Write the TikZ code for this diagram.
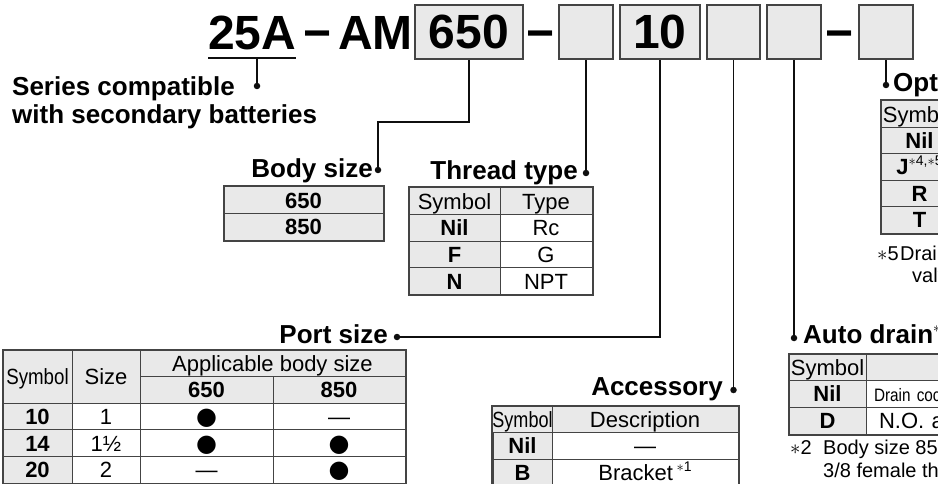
\documentclass[tikz,border=0pt]{standalone}
\usepackage{fontspec}
\usepackage{graphicx}
\setmainfont{Liberation Sans}
\newfontfamily\markfont{DejaVu Sans}
\usetikzlibrary{positioning,calc}
\definecolor{cellgray}{RGB}{233,233,233}
\definecolor{rulegray}{RGB}{68,68,68}
\definecolor{inkblack}{RGB}{15,15,15}
\newcommand{\partcodefont}{\fontsize{48}{50}\selectfont\bfseries}
\newcommand{\calloutfont}{\fontsize{26}{28}\selectfont\bfseries}
\newcommand{\cellfont}{\fontsize{22}{24}\selectfont}
\newcommand{\remarkfont}{\fontsize{20}{23}\selectfont}
\newcommand{\notemark}[1]{\raisebox{0.42em}{\fontsize{14}{14}\selectfont\mdseries$\ast$#1}}
\newcommand{\fitmark}{{\markfont\fontsize{24}{24}\selectfont ●}}
\newcommand{\nofit}{—}
\tikzset{
  codebox/.style={draw=rulegray, line width=1.8pt, fill=cellgray, inner sep=0pt,
    minimum height=54pt, minimum width=#1, font=\partcodefont},
  callout/.style={inner sep=0pt, font=\calloutfont},
  joint/.style={circle, fill=inkblack, inner sep=0pt, minimum size=6.5pt},
  leader/.style={draw=inkblack, line width=1.8pt},
  gcell/.style={draw=rulegray, line width=1pt, fill=cellgray, inner sep=0pt,
    minimum width=#1, minimum height=26.6pt, text height=16pt, text depth=0.2pt,
    font=\cellfont},
  wcell/.style={gcell=#1, fill=white},
  tabframe/.style={draw=rulegray, line width=2pt},
  remark/.style={inner sep=0pt, anchor=base west, align=left, font=\remarkfont},
}
\begin{document}
\begin{tikzpicture}[x=1pt, y=-1pt]
      \clip (0,0) rectangle (938,484);
      \fill[white] (0,0) rectangle (938,484);

      %% ---- part number ----
      \node[anchor=base west, inner sep=0pt, font=\partcodefont] (t25) at (208,50) {25A};
      \node[anchor=base, inner sep=0pt, font=\partcodefont] (dash1) at (318,50) {−};
      \node[anchor=base west, inner sep=0pt, font=\partcodefont] (tAM) at (338,50) {AM};
      \node[codebox=108] (b650) at (469,32) {650};
      \node[anchor=base, inner sep=0pt, font=\partcodefont] (dash2) at (541,50) {−};
      \node[codebox=54] (bThread) at (586,32) {};
      \node[codebox=80] (b10) at (660,32) {10};
      \node[codebox=53] (bAcc) at (733.5,32) {};
      \node[codebox=54] (bDrain) at (794,32) {};
      \node[anchor=base, inner sep=0pt, font=\partcodefont] (dash3) at (840,50) {−};
      \node[codebox=54] (bOpt) at (886,32) {};

      %% ---- callouts ----
      \node[callout, anchor=base west, align=left] (lSeries) at (12,124)
           {Series compatible\\with secondary batteries};
      \node[joint] (dSeries) at (257,86) {};
      \coordinate (ul25) at (257,58);
      \draw[leader] (t25.base west |- ul25) -- (t25.base east |- ul25);
      \draw[leader] (ul25) -- (dSeries);

      \node[callout, anchor=base east] (lBody) at (373,178) {Body size};
      \node[joint] (dBody) at (378,170) {};
      \coordinate (k650) at (420,122);
      \draw[leader] (b650.south) |- (k650) -| (dBody);

      \node[callout, anchor=base east] (lThread) at (578,180) {Thread type};
      \node[joint] (dThread) at (586,173) {};
      \draw[leader] (bThread.south) -- (dThread);

      \node[callout, anchor=base east] (lPort) at (388,343) {Port size};
      \node[joint] (dPort) at (397,337) {};
      \draw[leader] (b10.south) |- (dPort);

      \node[callout, anchor=base east] (lAcc) at (723,395) {Accessory};
      \node[joint] (dAcc) at (733.5,390) {};
      \draw[leader] (bAcc.south) -- (dAcc);

      \node[callout, anchor=base west] (lDrain) at (803,343) {Auto drain\notemark{2}};
      \node[joint] (dDrain) at (794,338) {};
      \draw[leader] (bDrain.south) -- (dDrain);

      \node[callout, anchor=base west] (lOpt) at (893,92) {Options};
      \node[joint] (dOpt) at (886,85) {};
      \draw[leader] (bOpt.south) -- (dOpt);

      %% ---- body size table ----
      \node[gcell=159, font=\cellfont\bfseries] (bs650) at (303.5,200.3) {650};
      \node[gcell=159, font=\cellfont\bfseries] (bs850) at (303.5,226.9) {850};
      \draw[tabframe] (bs650.north west) rectangle (bs850.south east);

      %% ---- thread type table ----
      \node[gcell=91] (ttSym) at (454.5,201.3) {Symbol};
      \node[gcell=92] (ttType) at (546,201.3) {Type};
      \foreach \ry/\sym/\val [count=\i] in {228/Nil/Rc, 254.6/F/G, 281.2/N/NPT}{
        \node[gcell=91, font=\cellfont\bfseries] (ttS\i) at (454.5,\ry) {\sym};
        \node[wcell=92] (ttV\i) at (546,\ry) {\val};}
      \draw[tabframe] (ttSym.north west) rectangle (ttV3.south east);

      %% ---- port size table ----
      \node[gcell=69, minimum height=53.2pt] (psSym) at (37.5,376.6) {\scalebox{0.85}[1]{Symbol}};
      \node[gcell=68, minimum height=53.2pt] (psSize) at (106,376.6) {Size};
      \node[gcell=265] (psApp) at (272.5,363.3) {Applicable body size};
      \node[gcell=133, font=\cellfont\bfseries] (ps650) at (206.5,389.9) {650};
      \node[gcell=132, font=\cellfont\bfseries] (ps850) at (339,389.9) {850};
      \foreach \ry/\sym/\sz/\fa/\fb [count=\i] in {416.5/10/1/\fitmark/\nofit,
                                  443.1/14/1½/\fitmark/\fitmark, 469.7/20/2/\nofit/\fitmark}{
        \node[gcell=69, font=\cellfont\bfseries] (psS\i) at (37.5,\ry) {\sym};
        \node[wcell=68] (psZ\i) at (106,\ry) {\sz};
        \node[wcell=133] (psA\i) at (206.5,\ry) {\fa};
        \node[wcell=132] (psB\i) at (339,\ry) {\fb};}
      \draw[tabframe] (psSym.north west) rectangle (psB3.south east);

      %% ---- accessory table ----
      \node[gcell=59] (acSym) at (522.5,419.3) {\scalebox{0.82}[1]{Symbol}};
      \node[gcell=186] (acDesc) at (645,419.3) {Description};
      \foreach \ry/\sym/\val [count=\i] in {445.9/Nil/\nofit, 472.5/B/{Bracket\,\notemark{1}}}{
        \node[gcell=59, font=\cellfont\bfseries] (acS\i) at (522.5,\ry) {\sym};
        \node[wcell=186] (acV\i) at (645,\ry) {\val};}
      \draw[tabframe] (acSym.north west) rectangle (acV2.south east);

      %% ---- auto drain table ----
      \node[gcell=77] (adSym) at (827.5,367.3) {Symbol};
      \node[gcell=170] (adDesc) at (951,367.3) {};
      \node[gcell=77, font=\cellfont\bfseries] (adS1) at (827.5,394) {Nil};
      \node[wcell=170, inner xsep=4pt, text width=162pt, align=left] (adV1) at (951,394)
           {\hspace*{4pt}\scalebox{0.85}[1]{\fontsize{18}{20}\selectfont Drain cock}};
      \node[gcell=77, font=\cellfont\bfseries] (adS2) at (827.5,420.7) {D};
      \node[wcell=170, inner xsep=4pt, text width=162pt, align=left] (adV2) at (951,420.7)
           {\hspace*{9pt}N.O. auto drain};
      \draw[tabframe] (adSym.north west) rectangle (adV2.south east);
      \node[remark] (nDrain) at (790,477)
           {\makebox[33pt][l]{$\ast$2}Body size 850\\\hspace*{33pt}3/8 female thread};

      %% ---- options table ----
      \node[gcell=77] (opSym) at (919.5,114.2) {Symbol};
      \foreach \ry/\sym [count=\i] in {140.6/Nil, 167/{J\notemark{4,$\ast$5}}, 193.4/R, 219.8/T}{
        \node[gcell=77, font=\cellfont\bfseries] (opS\i) at (919.5,\ry) {\sym};}
      \draw[tabframe] (opSym.north west) rectangle (opS4.south east);
      \node[remark] (nOpt) at (877,283)
           {\makebox[23pt][l]{$\ast$5}Drain\\\hspace*{35pt}valve};
\end{tikzpicture}
\end{document}
